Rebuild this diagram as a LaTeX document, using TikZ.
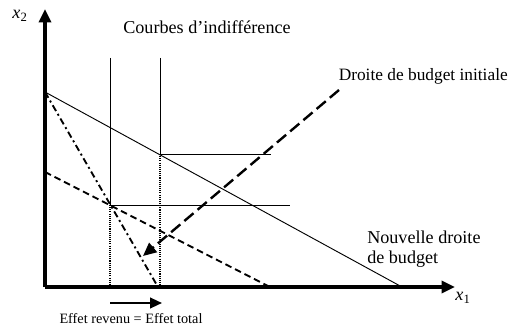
\documentclass[tikz,border=0pt]{standalone}
\usepackage{fontspec}
\setmainfont{Liberation Serif}
\usetikzlibrary{arrows.meta}
\begin{document}
\begin{tikzpicture}[x=0.75pt,y=-0.75pt,
  axis/.style={line width=2.4pt,-{Triangle[length=10pt,width=9pt]}},
  thin line/.style={line width=0.7pt},
  shortdash/.style={line width=1.4pt,dash pattern=on 5pt off 3pt},
  dashdot/.style={line width=1.4pt,dash pattern=on 5pt off 2.5pt on 1.5pt off 2.5pt},
  longdash/.style={line width=1.8pt,dash pattern=on 9pt off 4pt,-{Triangle[length=10pt,width=9pt]}},
  dotline/.style={line width=2pt,dash pattern=on 0.8pt off 0.8pt},
  lbl/.style={font=\fontsize{13.6}{15.5}\selectfont,inner sep=0pt}]
\useasboundingbox (0,0) rectangle (510,328);
% key points
\coordinate (O) at (45,287);
\coordinate (Ytop) at (45,9);
\coordinate (Xend) at (455,287);
\coordinate (A) at (45,92);
\coordinate (B) at (402,287);
\coordinate (C) at (45,172);
\coordinate (D) at (270,287);
\coordinate (E) at (158,287);
\coordinate (P1) at (110,205);
\coordinate (P2) at (160,154);
\coordinate (P1b) at (110,287);
\coordinate (P2b) at (160,287);
\coordinate (V1t) at (110,58);
\coordinate (V2t) at (160,58);
\coordinate (H1e) at (290,205);
\coordinate (H2e) at (271,154);
\coordinate (LDs) at (339,90);
\coordinate (LDe) at (143,256);
\coordinate (ArS) at (110,303);
\coordinate (ArE) at (162,303);
% budget lines
\draw[thin line] (A) -- (B);
\draw[dashdot] (A) -- (E);
\draw[shortdash] (C) -- (D);
% indifference curves (L-shaped)
\draw[thin line] (V1t) -- (P1) -- (H1e);
\draw[thin line] (V2t) -- (P2) -- (H2e);
% dotted projections
\draw[dotline] (P1) -- (P1b);
\draw[dotline] (P2) -- (P2b);
% long dashed arrow
\draw[longdash] (LDs) -- (LDe);
% axes
\draw[axis] (O) -- (Ytop);
\draw[axis] (O) -- (Xend);
% effect arrow
\draw[line width=1.6pt,-{Triangle[length=9pt,width=8pt]}] (ArS) -- (ArE);
% labels
\node[lbl,anchor=center] (x2) at (20,16) {\textit{x}\textsubscript{2}};
\node[lbl,anchor=center] (x1) at (463,298) {\textit{x}\textsubscript{1}};
\node[lbl,anchor=center] (ci) at (207,27) {Courbes d’indifférence};
\node[lbl,anchor=east,font=\fontsize{13}{15}\selectfont] (dbi) at (508,76) {Droite de budget initiale};
\node[lbl,anchor=west,align=left] (ndb) at (367,249) {Nouvelle droite\\de budget};
\node[font=\fontsize{10.7}{12}\selectfont,inner sep=0pt] (eff) at (131,319) {Effet revenu = Effet total};
\end{tikzpicture}
\end{document}
